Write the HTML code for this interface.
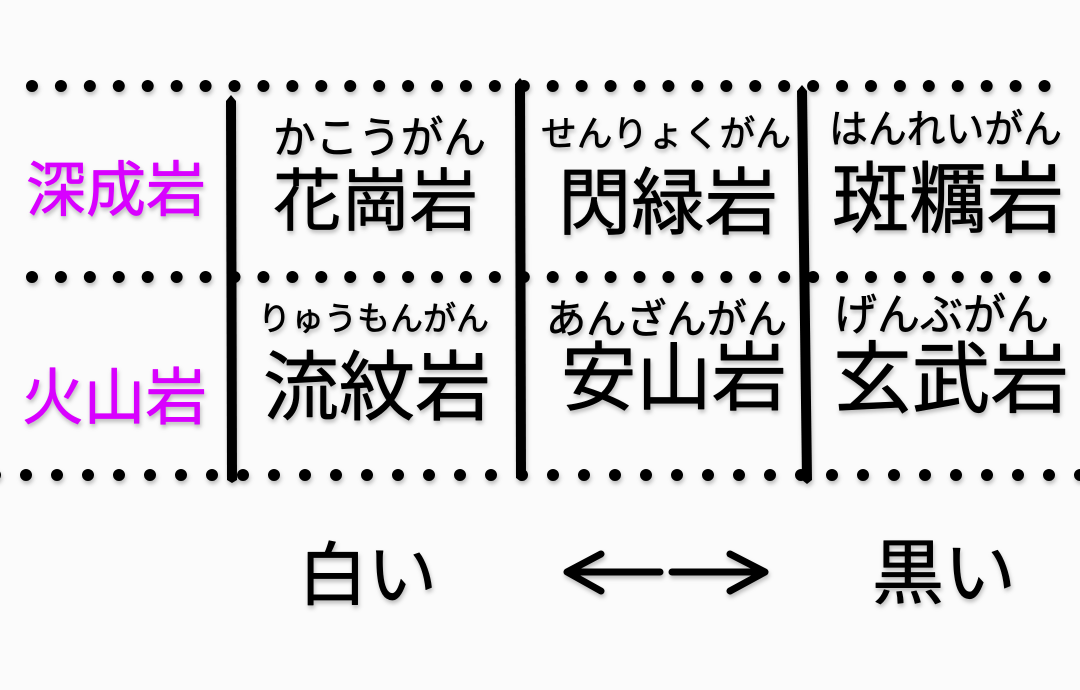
<!DOCTYPE html>
<html lang="ja"><head><meta charset="utf-8"><style>
html,body{margin:0;padding:0;background:#fbfbfb}
svg{display:block}
text{font-family:"Liberation Sans","Noto Sans CJK JP",sans-serif;fill:#000;stroke:#000;stroke-linejoin:round;stroke-linecap:round;stroke-width:.7px}
.m{fill:#d800ff;stroke:#d800ff}
.s{filter:drop-shadow(1.5px 3px 2px rgba(0,0,0,.25))}
</style></head><body>
<svg width="1080" height="690" viewBox="0 0 1080 690" xmlns="http://www.w3.org/2000/svg">
<rect width="1080" height="690" fill="#fbfbfb"/>
<g class="s">
<line x1="32" y1="86" x2="1048" y2="86" stroke="#000" stroke-width="12" stroke-linecap="round" stroke-dasharray="0 28.93"/>
<line x1="32" y1="277" x2="1048" y2="277" stroke="#000" stroke-width="12" stroke-linecap="round" stroke-dasharray="0 28.93"/>
<line x1="-5" y1="475" x2="1090" y2="475" stroke="#000" stroke-width="12" stroke-linecap="round" stroke-dasharray="0 31"/>
<polygon points="231,95 236,101 237,480 232,483 227,480 226,101" fill="#000"/>
<polygon points="520,78 525,84 526,478 521,481 516,478 515,84" fill="#000"/>
<polygon points="802,85 807,91 812,480 807,484 802,480 797,91" fill="#000"/>
<g fill="none" stroke="#000" stroke-width="7" stroke-linecap="round" stroke-linejoin="round">
<path d="M660 572H567M601 554L567 572L601 591"/>
<path d="M672 572H765M730 554L765 572L730 591"/>
</g>
</g>
<g class="s">
<text class="m" x="26" y="211" font-size="60" textLength="180" lengthAdjust="spacingAndGlyphs">深成岩</text>
<text class="m" x="22" y="419" font-size="62" textLength="185" lengthAdjust="spacingAndGlyphs">火山岩</text>
<text x="273" y="153" font-size="43.5" textLength="213" lengthAdjust="spacingAndGlyphs">かこうがん</text>
<text x="273" y="225" font-size="68" textLength="205" lengthAdjust="spacingAndGlyphs">花崗岩</text>
<text x="541" y="146" font-size="36" textLength="250" lengthAdjust="spacingAndGlyphs">せんりょくがん</text>
<text x="558" y="228" font-size="73" textLength="220" lengthAdjust="spacingAndGlyphs">閃緑岩</text>
<text x="829" y="143" font-size="39.5" textLength="233" lengthAdjust="spacingAndGlyphs">はんれいがん</text>
<text x="832" y="226" font-size="77.5" textLength="232" lengthAdjust="spacingAndGlyphs">斑糲岩</text>
<text x="258" y="330" font-size="33" textLength="231" lengthAdjust="spacingAndGlyphs">りゅうもんがん</text>
<text x="263" y="414" font-size="76" textLength="228" lengthAdjust="spacingAndGlyphs">流紋岩</text>
<text x="546" y="333" font-size="40.5" textLength="241" lengthAdjust="spacingAndGlyphs">あんざんがん</text>
<text x="561" y="404" font-size="75" textLength="226" lengthAdjust="spacingAndGlyphs">安山岩</text>
<text x="834" y="330" font-size="43.5" textLength="215" lengthAdjust="spacingAndGlyphs">げんぶがん</text>
<text x="833" y="406" font-size="78" textLength="236" lengthAdjust="spacingAndGlyphs">玄武岩</text>
<text x="298" y="599" font-size="69" textLength="139" lengthAdjust="spacingAndGlyphs">白い</text>
<text x="872" y="598" font-size="71" textLength="144" lengthAdjust="spacingAndGlyphs">黒い</text>
</g>
</svg>
</body></html>
